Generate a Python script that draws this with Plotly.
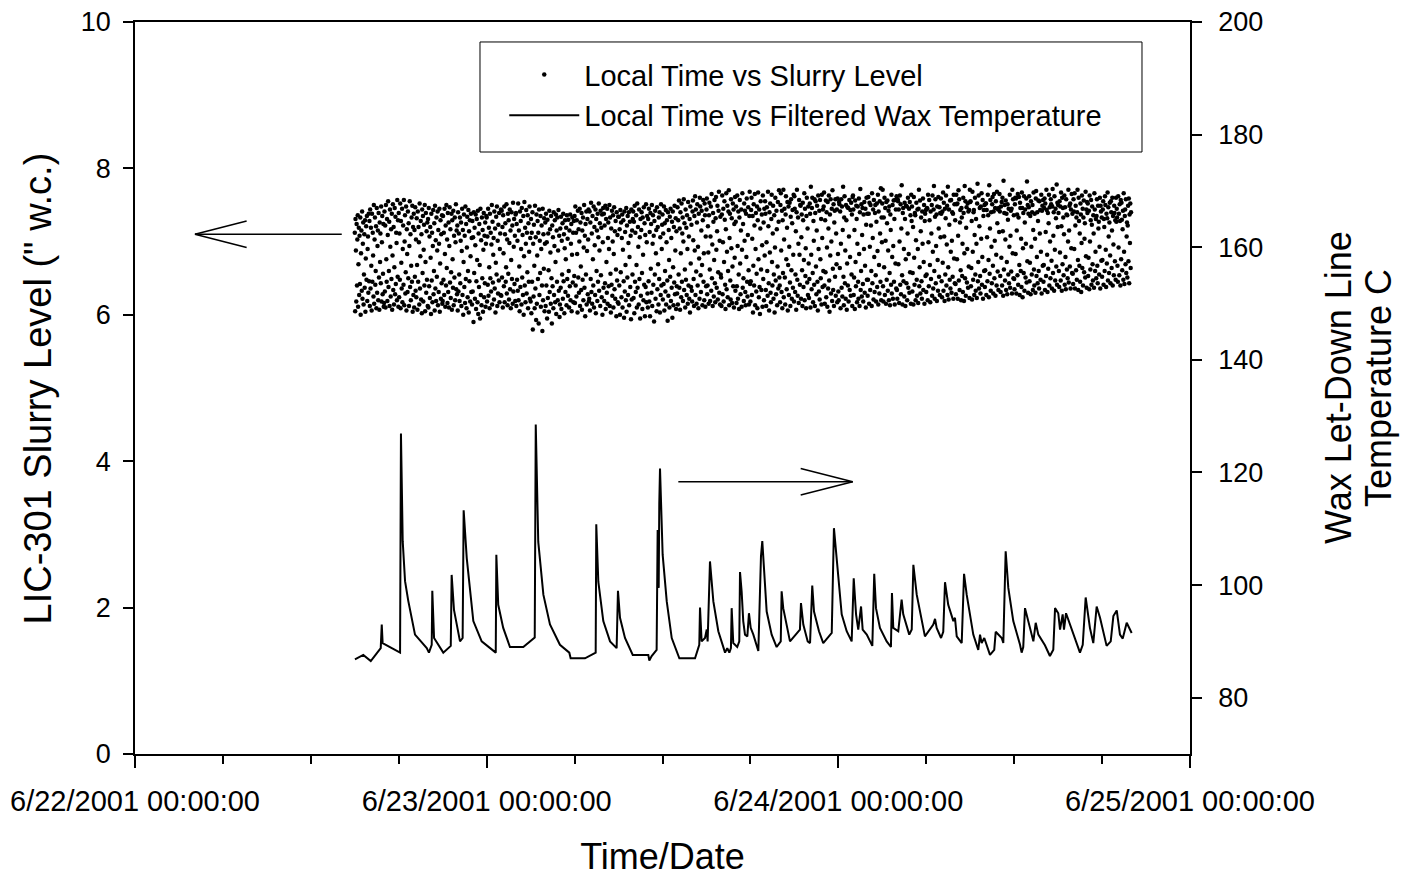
import pandas as pd
import plotly.graph_objects as go

# ---------------- data ----------------
T0 = pd.Timestamp("2001-06-22 00:00:00")

# Filtered wax temperature: hours since 6/22/2001 00:00, and temperature (C)
wax_hours = [
    15.01, 15.58, 16.09, 16.77, 16.84, 16.90, 18.09, 18.15, 18.27, 18.43, 18.65, 19.11, 19.91, 20.06,
    20.25, 20.29, 20.41, 21.04, 21.55, 21.61, 21.77, 22.18, 22.36, 22.43, 22.64, 23.09, 23.66, 24.62,
    24.66, 24.79, 25.13, 25.59, 26.50, 27.28, 27.35, 27.52, 27.87, 28.32, 29.00, 29.64, 29.73, 30.71,
    31.44, 31.48, 31.62, 31.96, 32.42, 32.87, 32.96, 33.10, 33.44, 33.97, 35.03, 35.10, 35.26, 35.60,
    35.67, 35.74, 35.78, 35.83, 36.01, 36.29, 36.63, 37.15, 38.22, 38.51, 38.56, 38.67, 38.90, 39.02,
    39.08, 39.24, 39.47, 39.81, 40.27, 40.42, 40.56, 40.67, 40.72, 40.83, 41.10, 41.24, 41.29, 41.40,
    41.51, 41.63, 41.79, 41.90, 42.02, 42.20, 42.54, 42.65, 42.72, 42.81, 42.93, 43.11, 43.45, 43.79,
    44.07, 44.13, 44.24, 44.70, 45.38, 45.45, 45.61, 45.91, 46.07, 46.22, 46.34, 46.68, 46.97, 47.55,
    47.70, 47.89, 48.23, 48.57, 48.91, 49.05, 49.21, 49.36, 49.55, 49.66, 49.94, 50.32, 50.45, 50.57,
    50.84, 51.30, 51.59, 51.66, 51.75, 52.09, 52.32, 52.43, 52.84, 53.01, 53.12, 53.35, 53.91, 54.48,
    54.60, 54.71, 55.01, 55.16, 55.28, 55.50, 55.85, 55.96, 56.08, 56.42, 56.58, 56.76, 57.21, 57.55,
    57.67, 57.78, 57.96, 58.35, 58.64, 58.74, 59.15, 59.26, 59.42, 59.60, 59.94, 60.40, 60.51, 60.62,
    60.74, 61.08, 61.31, 61.47, 61.65, 62.10, 62.44, 62.67, 62.79, 63.01, 63.13, 63.31, 63.40, 63.54,
    64.04, 64.49, 64.68, 64.88, 65.17, 65.40, 65.63, 65.86, 66.31, 66.59, 66.77, 67.00, 67.22, 67.41,
    67.68, 68.02,
]
wax_temp = [
    86.8, 87.6, 86.5, 88.8, 93.0, 89.7, 88.0, 126.9, 107.8, 100.7, 97.2, 91.2, 88.8, 88.0,
    89.4, 99.0, 90.6, 88.0, 89.2, 101.8, 95.6, 90.0, 90.6, 113.3, 104.8, 93.6, 90.0, 88.0,
    105.4, 96.5, 92.4, 89.0, 89.0, 90.7, 128.5, 107.7, 98.3, 93.0, 89.4, 88.0, 87.0, 87.0,
    88.0, 110.8, 100.6, 93.6, 90.0, 88.8, 99.0, 94.2, 90.6, 87.6, 87.6, 86.6, 87.4, 88.5,
    109.8, 99.5, 114.5, 120.7, 105.4, 97.1, 90.6, 87.0, 87.0, 89.4, 96.0, 90.0, 90.6, 92.1,
    90.0, 104.2, 97.1, 91.8, 88.0, 88.8, 88.0, 88.8, 95.9, 89.7, 89.0, 90.0, 102.3, 98.9,
    93.6, 91.2, 90.9, 95.0, 92.4, 91.2, 88.3, 97.1, 105.1, 107.8, 101.8, 95.3, 91.2, 89.0,
    90.0, 98.9, 95.9, 90.0, 92.1, 96.8, 93.0, 90.0, 89.7, 99.9, 95.3, 91.8, 89.7, 91.5,
    110.1, 104.2, 94.8, 91.8, 90.0, 101.2, 94.8, 92.1, 96.2, 92.1, 91.2, 89.2, 102.0, 95.9,
    92.4, 90.0, 89.0, 98.6, 92.4, 91.8, 97.4, 94.8, 91.2, 92.1, 103.6, 98.3, 90.9, 93.0,
    94.0, 92.4, 90.6, 91.7, 100.5, 96.5, 93.6, 94.2, 90.9, 89.7, 102.0, 98.3, 91.2, 88.5,
    91.2, 89.7, 90.6, 87.6, 88.5, 91.7, 90.6, 89.7, 106.0, 99.5, 93.6, 89.4, 88.0, 89.0,
    95.9, 92.4, 90.0, 93.3, 91.2, 89.3, 87.4, 88.5, 95.9, 95.0, 92.1, 94.8, 92.1, 95.0,
    91.2, 88.0, 89.4, 97.8, 92.4, 89.7, 96.2, 94.2, 89.2, 90.0, 94.5, 95.5, 91.2, 90.5,
    93.3, 91.5,
]

# Slurry level (" w.c. x 100), one sample every 90 s starting 6/22/2001 15:00; one row per hour
slurry_start = "2001-06-22 15:00:00"
slurry_step = "90s"
slurry_level_hundredths = [
    712,605,731,688,618,724,640,703,736,611,669,719,627,708,642,733,600,684,715,633,741,622,697,726,614,655,710,637,729,604,677,721,648,735,619,690,707,630,738,646,
    728,612,744,636,719,667,606,738,645,712,681,625,750,615,703,733,641,660,721,609,746,630,694,715,620,739,651,607,726,672,711,643,748,618,699,735,628,656,724,611,
    616,741,632,722,610,750,676,645,731,619,709,755,638,660,727,612,744,693,625,717,649,738,607,681,751,634,720,614,665,746,628,734,642,712,698,620,757,652,729,611,
    739,624,711,648,752,609,728,671,636,745,617,690,722,641,757,613,700,736,629,658,748,606,717,683,631,741,650,725,612,694,755,638,710,620,667,733,645,749,604,720,
    627,738,610,716,652,747,633,703,624,732,668,607,741,645,720,699,614,752,636,680,728,621,710,602,744,657,735,618,689,723,640,750,605,672,739,630,714,648,726,612,
    731,610,746,639,707,623,720,678,601,738,647,712,617,694,743,628,660,725,606,749,636,702,619,733,652,688,741,613,716,631,697,745,604,670,729,622,710,643,736,615,
    619,735,648,712,627,745,683,611,722,640,750,664,703,616,739,631,726,610,694,747,644,717,623,658,738,607,729,676,637,742,613,708,651,733,620,699,751,635,715,628,
    722,606,740,632,711,655,619,733,643,701,726,612,687,745,627,716,600,672,737,638,708,616,748,649,724,609,692,734,624,660,743,603,714,646,729,618,680,738,631,705,
    614,728,632,706,590,740,657,719,622,695,737,608,646,731,675,617,742,601,711,638,724,668,595,745,627,702,613,733,650,716,604,689,739,624,708,643,726,611,697,735,
    733,618,707,641,745,626,719,665,609,738,650,712,632,696,750,614,727,644,682,705,621,741,636,718,603,671,734,655,748,612,701,629,723,647,739,617,690,711,627,744,
    626,742,651,720,610,736,684,639,748,617,710,725,645,665,751,629,703,613,738,656,729,621,698,744,635,715,609,675,740,649,722,615,753,632,693,731,642,708,619,737,
    739,612,724,648,701,633,752,620,715,666,605,741,638,728,690,614,746,651,709,627,735,600,680,754,640,719,617,697,743,629,712,658,736,609,725,645,686,748,622,705,
    618,731,602,712,645,740,580,697,625,723,667,609,749,636,706,593,737,615,681,728,649,712,588,744,627,701,657,735,611,690,722,640,578,745,620,710,663,732,605,697,
    726,612,738,640,699,595,730,623,711,661,604,742,631,717,685,615,735,650,588,722,639,706,609,740,627,694,729,617,672,737,601,715,645,733,620,688,743,633,708,597,
    614,718,637,734,608,701,655,725,622,738,646,710,602,691,729,631,676,719,613,736,649,704,626,730,660,610,715,639,737,620,697,724,605,682,733,644,712,617,728,653,
    735,616,748,640,712,625,729,683,603,742,651,717,630,700,745,612,726,666,634,739,607,715,648,733,620,692,750,637,708,598,724,655,741,614,687,731,628,703,744,618,
    622,741,606,726,649,753,631,711,615,735,676,640,748,610,720,695,627,744,602,731,660,715,619,738,645,706,752,633,688,725,612,742,654,719,624,737,600,699,746,637,
    738,619,722,643,749,608,731,672,630,745,615,705,726,639,690,750,612,733,656,603,718,641,742,626,700,736,610,683,747,635,714,622,728,662,598,740,647,709,617,734,
    615,734,640,717,600,743,658,726,624,705,737,610,689,729,646,596,741,632,713,668,620,746,604,722,651,735,627,698,740,613,679,727,638,708,594,744,621,715,655,731,
    741,623,727,602,749,645,712,631,736,668,610,752,637,720,693,614,744,649,706,595,731,626,716,740,657,608,733,682,620,747,641,725,598,709,638,751,617,699,735,629,
    610,731,646,745,618,713,598,739,663,724,630,750,612,697,736,641,708,591,728,655,742,622,684,716,605,747,635,720,669,614,733,649,740,603,706,627,751,640,690,723,
    737,621,711,642,748,606,725,660,632,743,614,699,729,647,592,740,626,716,675,610,734,652,745,619,705,637,727,596,741,665,613,720,644,749,628,688,732,608,714,639,
    629,747,614,729,655,756,637,718,607,740,684,624,752,645,711,733,619,700,758,634,725,662,610,744,648,719,627,736,690,615,754,640,707,622,731,603,748,670,638,723,
    633,618,741,756,702,649,612,735,688,762,627,744,659,615,726,751,640,693,609,738,677,622,760,748,654,631,715,742,668,613,729,757,645,684,620,752,736,611,707,639,
    744,759,628,640,721,685,615,736,753,662,619,707,748,633,765,650,696,612,739,727,625,675,757,643,617,732,761,689,637,714,749,621,658,742,768,630,701,614,734,655,
    651,612,737,763,628,699,745,618,672,755,730,641,608,717,766,635,686,749,624,660,741,770,613,705,738,647,621,758,691,732,616,666,752,639,744,610,724,678,761,633,
    727,748,616,639,763,694,622,741,655,608,733,757,670,628,715,744,611,689,766,637,724,650,619,752,701,742,631,613,738,679,759,645,625,709,747,661,614,735,768,642,
    618,646,743,760,627,704,735,603,667,751,640,722,765,613,690,739,632,656,748,609,729,767,676,624,744,638,601,718,755,662,634,737,695,611,763,649,726,620,745,681,
    755,738,634,612,699,747,660,626,768,721,643,606,740,685,752,630,617,731,764,672,640,711,749,622,655,736,603,692,760,647,628,742,717,613,666,754,636,727,770,651,
    640,617,750,766,688,631,742,609,729,657,771,624,703,745,651,614,737,762,676,635,719,754,606,668,748,627,693,753,644,612,734,758,661,622,725,743,637,682,764,618,
    762,745,631,655,714,607,740,771,648,626,733,697,616,757,682,641,750,749,622,706,737,661,612,753,729,638,675,766,620,745,653,691,609,735,760,644,718,627,748,670,
    623,649,752,738,610,775,682,635,746,760,657,617,728,701,641,758,612,739,755,666,628,715,749,645,606,763,690,632,742,621,757,676,650,731,614,764,705,638,744,660,
    748,767,640,615,729,658,756,624,740,692,611,754,636,718,763,647,604,737,681,758,629,700,745,619,770,663,634,751,612,726,742,652,758,626,711,669,744,617,759,683,
    632,620,754,751,664,741,609,697,758,637,748,625,716,775,652,613,733,762,643,688,622,750,729,607,670,747,640,746,618,707,757,634,679,743,626,753,655,737,612,761,
    763,744,627,651,716,608,756,672,639,749,731,617,697,748,645,622,759,683,612,740,772,634,660,751,625,709,746,642,618,737,690,754,630,667,745,610,723,760,648,738,
    626,648,761,738,615,753,693,634,750,722,660,612,766,643,705,744,621,757,679,631,739,750,654,618,727,752,638,687,764,614,741,668,629,755,711,645,773,620,733,699,
    752,771,639,618,733,665,760,627,746,701,615,754,648,725,756,633,688,742,620,748,657,613,737,716,641,764,629,679,750,622,694,756,645,731,614,757,670,744,636,762,
    634,622,758,755,669,744,616,700,763,641,751,628,718,777,654,614,739,746,646,690,625,753,731,612,676,749,643,748,620,711,760,637,683,745,630,754,658,736,615,764,
    728,748,632,657,720,614,761,678,641,739,736,620,702,753,648,626,744,690,616,745,771,639,665,756,629,714,733,646,622,741,697,759,634,672,750,615,728,738,653,743,
    631,655,746,745,620,764,699,639,757,729,668,617,741,649,711,750,626,763,686,636,744,776,660,622,734,758,643,694,737,619,748,675,633,761,718,652,747,627,739,706,
    759,738,646,624,741,671,767,633,753,707,619,745,655,732,763,640,696,749,627,775,665,621,744,723,648,756,636,686,757,630,701,740,652,738,622,764,677,751,643,729,
    642,628,764,751,676,752,622,708,770,647,758,634,726,743,661,620,746,733,653,697,631,760,739,619,684,776,650,755,626,719,747,644,690,752,637,741,666,743,623,771,
    754,755,639,664,728,621,768,686,648,740,743,627,709,760,655,633,731,697,623,752,779,646,672,763,636,721,746,653,629,748,704,766,641,679,757,622,735,743,660,750,
    638,661,752,752,627,743,706,646,764,736,675,624,777,656,718,757,633,740,693,643,751,761,667,629,741,765,650,701,746,626,755,682,640,768,725,659,744,634,746,713,
    765,741,653,631,748,678,754,640,760,714,626,783,662,739,750,647,703,756,634,738,672,628,751,730,655,745,643,693,764,637,708,742,659,745,629,771,684,758,650,736,
    649,635,751,760,683,759,629,715,737,654,765,641,733,761,668,627,753,746,660,704,638,767,746,624,691,739,657,762,633,726,744,651,697,759,644,782,673,750,630,738,
    747,762,646,671,735,628,755,693,655,740,750,634,716,767,662,640,738,704,630,759,769,653,679,740,643,728,756,660,636,755,711,743,648,686,764,629,742,749,667,757,
    645,668,746,759,634,752,713,653,771,743,682,631,739,663,725,764,640,747,700,650,758,751,674,636,748,772,657,708,740,633,762,689,647,745,732,666,778,641,753,720,
    750,739,660,638,755,685,748,647,767,721,633,760,669,746,733,654,710,763,641,747,679,635,758,737,662,736,650,700,771,644,715,749,666,752,636,744,691,765,657,738,
    656,642,758,741,690,766,636,722,749,661,733,648,740,771,675,634,760,728,667,711,645,752,737,631,698,763,664,745,640,733,756,658,704,725,651,768,680,744,637,754,
    739,752,653,678,742,635,763,700,662,729,757,641,723,748,669,647,736,711,637,766,744,660,686,731,650,735,758,667,643,749,718,727,655,693,760,636,749,741,674,733,
    652,675,744,755,641,731,720,660,762,750,689,638,738,670,732,767,647,747,707,657,726,753,681,643,755,740,664,715,760,640,735,696,654,749,739,673,729,648,760,727,
    745,733,667,645,762,692,738,654,751,728,640,757,676,753,730,661,717,742,648,766,686,642,735,744,669,758,657,707,726,651,722,749,673,759,643,737,698,752,664,740,
]

x_tick_dates = ["2001-06-22", "2001-06-23", "2001-06-24", "2001-06-25"]
x_tick_labels = ["6/22/2001 00:00:00", "6/23/2001 00:00:00", "6/24/2001 00:00:00", "6/25/2001 00:00:00"]

series_names = ["Local Time vs Slurry Level", "Local Time vs Filtered Wax Temperature"]
left_title = "LIC-301 Slurry Level (\" w.c.)"
right_title_lines = ["Wax Let-Down Line", "Temperature C"]

# Annotation arrows (hours since T0, value on the axis they point to)
left_arrow = dict(tail_h=14.11, tip_h=4.09, head_h=7.62, y=7.10, half=0.18)      # left axis units
right_arrow = dict(tail_h=37.08, tip_h=48.98, head_h=45.43, y=118.35, half=2.36)  # right axis units

# ---------------- build ----------------
FONT = "Arial, 'Liberation Sans', Helvetica, sans-serif"

wax_x = [T0 + pd.Timedelta(hours=h) for h in wax_hours]
slurry_x = pd.date_range(slurry_start, periods=len(slurry_level_hundredths), freq=slurry_step)
slurry_y = [v / 100.0 for v in slurry_level_hundredths]

fig = go.Figure()
fig.add_trace(go.Scatter(
    x=slurry_x, y=slurry_y, mode="markers", name=series_names[0],
    marker=dict(color="black", size=4.5, line=dict(width=0)), yaxis="y",
))
fig.add_trace(go.Scatter(
    x=wax_x, y=wax_temp, mode="lines", name=series_names[1],
    line=dict(color="black", width=2), yaxis="y2",
))

def th(h):
    return T0 + pd.Timedelta(hours=h)

shapes = []
for arr, yref in ((left_arrow, "y"), (right_arrow, "y2")):
    ln = dict(color="black", width=1.5)
    shapes.append(dict(type="line", xref="x", yref=yref, x0=th(arr["tail_h"]), x1=th(arr["tip_h"]),
                       y0=arr["y"], y1=arr["y"], line=ln))
    for s in (1, -1):
        shapes.append(dict(type="line", xref="x", yref=yref, x0=th(arr["tip_h"]), x1=th(arr["head_h"]),
                           y0=arr["y"], y1=arr["y"] + s * arr["half"], line=ln))
# legend frame
shapes.append(dict(type="rect", xref="paper", yref="paper", x0=0.327, x1=0.9545, y0=0.8224, y1=0.9727,
                   line=dict(color="black", width=1), fillcolor="rgba(0,0,0,0)"))

annotations = [dict(text=left_title, xref="paper", yref="paper", x=-0.0915, y=0.5, textangle=-90,
                    xanchor="center", yanchor="middle", showarrow=False,
                    font=dict(size=38, family=FONT, color="black"))]
for txt, xp in zip(right_title_lines, (1.1403, 1.1782)):
    annotations.append(dict(text=txt, xref="paper", yref="paper", x=xp, y=0.5, textangle=-90,
                            xanchor="center", yanchor="middle", showarrow=False,
                            font=dict(size=36, family=FONT, color="black")))

# page body has an 8 px margin, so the figure is 8 px smaller than the window
fig.update_layout(
    width=1405, height=869,
    margin=dict(l=127, r=223, t=14, b=123, autoexpand=False),
    paper_bgcolor="white", plot_bgcolor="white",
    font=dict(family=FONT, color="black", size=27),
    showlegend=True,
    legend=dict(x=0.350, y=0.963, xanchor="left", yanchor="top", bgcolor="rgba(0,0,0,0)",
                borderwidth=0, font=dict(size=29), itemwidth=70, tracegroupgap=0),
    shapes=shapes,
    annotations=annotations,
    xaxis=dict(
        type="date", range=[x_tick_dates[0], x_tick_dates[-1]],
        tickvals=x_tick_dates, ticktext=x_tick_labels, tickfont=dict(size=29),
        ticks="outside", ticklen=12, tickwidth=1.5, tickcolor="black",
        minor=dict(dtick=6 * 3600 * 1000, ticks="outside", ticklen=8, tickwidth=1.5, tickcolor="black"),
        showline=True, linecolor="black", linewidth=1.5, mirror=True,
        showgrid=False, zeroline=False, ticklabelstandoff=8, automargin=False,
        ticklabeloverflow="allow",
        title=dict(text="Time/Date", font=dict(size=36), standoff=30),
    ),
    yaxis=dict(
        range=[0, 10], dtick=2, ticks="outside", ticklen=10, tickwidth=1.5, tickcolor="black",
        showline=True, linecolor="black", linewidth=1.5, showgrid=False, zeroline=False,
        ticklabelstandoff=7, automargin=False, ticklabeloverflow="allow",
    ),
    yaxis2=dict(
        range=[70, 200], tick0=80, dtick=20, overlaying="y", side="right",
        ticks="outside", ticklen=10, tickwidth=1.5, tickcolor="black",
        showline=True, linecolor="black", linewidth=1.5, showgrid=False, zeroline=False,
        ticklabelstandoff=11, automargin=False, ticklabeloverflow="allow",
    ),
)

fig.write_html("out.html")
